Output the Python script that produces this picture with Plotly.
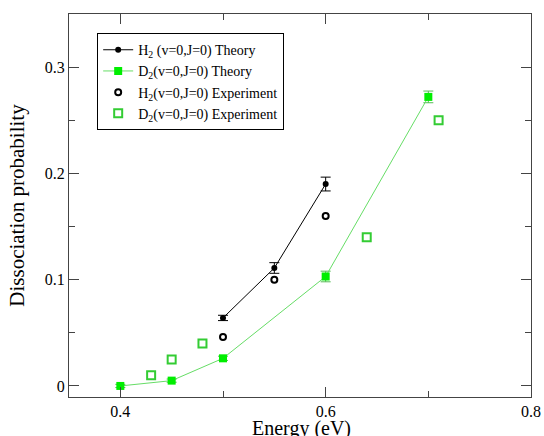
import plotly.graph_objects as go

# Data
h2_theory_x = [0.5, 0.55, 0.6]
h2_theory_y = [0.064, 0.111, 0.190]
h2_theory_err = [0.0025, 0.005, 0.0065]

d2_theory_x = [0.4, 0.45, 0.5, 0.6, 0.7]
d2_theory_y = [0.0, 0.005, 0.026, 0.103, 0.272]
d2_theory_err = [0.0015, 0.0015, 0.002, 0.005, 0.0055]

h2_exp_x = [0.5, 0.55, 0.6]
h2_exp_y = [0.046, 0.100, 0.160]

d2_exp_x = [0.43, 0.45, 0.48, 0.64, 0.71]
d2_exp_y = [0.010, 0.025, 0.040, 0.140, 0.250]

x_tickvals = [0.4, 0.6, 0.8]
x_ticktext = ["0.4", "0.6", "0.8"]
y_tickvals = [0, 0.1, 0.2, 0.3]
y_ticktext = ["0", "0.1", "0.2", "0.3"]

GREEN = "#00ee00"
FONT = "Liberation Serif, Times New Roman, serif"

fig = go.Figure()
fig.add_trace(go.Scatter(
    x=h2_theory_x, y=h2_theory_y, mode="lines+markers",
    name="H<sub>2</sub> (v=0,J=0) Theory",
    line=dict(color="black", width=1),
    marker=dict(symbol="circle", size=6, color="black"),
    error_y=dict(type="data", array=h2_theory_err, color="black", thickness=1, width=5),
))
fig.add_trace(go.Scatter(
    x=d2_theory_x, y=d2_theory_y, mode="lines+markers",
    name="D<sub>2</sub>(v=0,J=0) Theory",
    line=dict(color="#66dd66", width=1),
    marker=dict(symbol="square", size=8, color=GREEN),
    error_y=dict(type="data", array=d2_theory_err, color="#55bb55", thickness=1, width=5),
))
fig.add_trace(go.Scatter(
    x=h2_exp_x, y=h2_exp_y, mode="markers",
    name="H<sub>2</sub>(v=0,J=0) Experiment",
    marker=dict(symbol="circle-open", size=6, color="black", line=dict(width=2)),
))
fig.add_trace(go.Scatter(
    x=d2_exp_x, y=d2_exp_y, mode="markers",
    name="D<sub>2</sub>(v=0,J=0) Experiment",
    marker=dict(symbol="square-open", size=8, color="#33cc33", line=dict(width=2)),
))

axis_common = dict(
    showgrid=False, zeroline=False, showline=True, linecolor="#444444", linewidth=1,
    mirror="ticks", ticks="inside", ticklen=10, tickcolor="#444444", tickwidth=1,
    tickfont=dict(family=FONT, size=16, color="black"),
)

fig.update_xaxes(
    range=[0.35, 0.8], tickvals=x_tickvals, ticktext=x_ticktext,
    minor=dict(tickvals=[0.5, 0.7], ticks="inside", ticklen=6, tickcolor="#444444"),
    **axis_common,
)
fig.update_yaxes(
    range=[-0.0104, 0.35], tickvals=y_tickvals, ticktext=y_ticktext,
    minor=dict(tickvals=[0.05, 0.15, 0.25], ticks="inside", ticklen=6, tickcolor="#444444"),
    title=dict(text="Dissociation probability", font=dict(family=FONT, size=21, color="black"), standoff=14),
    **axis_common,
)

fig.add_annotation(
    text="Energy (eV)", xref="paper", yref="paper", x=0.504, y=-0.047,
    xanchor="center", yanchor="top", showarrow=False,
    font=dict(family=FONT, size=20, color="black"),
)

fig.update_layout(
    width=544, height=436,
    margin=dict(l=69, r=13, t=14, b=39, autoexpand=False),
    paper_bgcolor="white", plot_bgcolor="white",
    font=dict(family=FONT, color="black"),
    legend=dict(
        x=0.061, y=0.95, xanchor="left", yanchor="top",
        bordercolor="black", borderwidth=1, bgcolor="white",
        font=dict(family=FONT, size=14, color="black"),
        itemwidth=30, tracegroupgap=0,
    ),
    showlegend=True,
)

fig.write_html("out.html")
